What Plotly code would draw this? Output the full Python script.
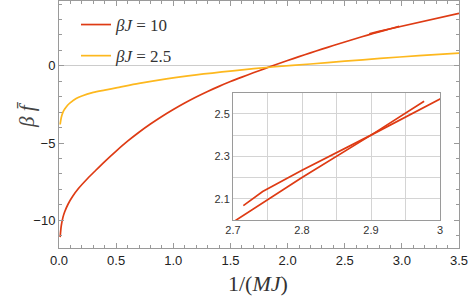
import plotly.graph_objects as go

# ---- data ----
# beta J = 10, main branch (ends inside the inset window)
red_b_x = [0.01, 0.02, 0.035, 0.05, 0.08, 0.12, 0.17, 0.25, 0.32, 0.4, 0.5, 0.6, 0.7, 0.8,
           0.9, 1.0, 1.1, 1.2, 1.3, 1.4, 1.5, 1.6, 1.7, 1.8, 1.9, 2.0, 2.1, 2.2, 2.3, 2.4,
           2.5, 2.6, 2.7, 2.8, 2.9, 2.977]
red_b_y = [-11.1, -10.35, -9.8, -9.45, -8.95, -8.45, -7.95, -7.3, -6.78, -6.2, -5.52, -4.88,
           -4.3, -3.77, -3.28, -2.83, -2.41, -2.02, -1.66, -1.33, -1.02, -0.73, -0.45, -0.18,
           0.09, 0.345, 0.595, 0.84, 1.08, 1.315, 1.545, 1.77, 1.99, 2.2, 2.4, 2.56]
# beta J = 10, second branch (starts inside the inset window)
red_a_x = [2.715, 2.743, 2.8, 2.9, 3.0, 3.1, 3.2, 3.3, 3.4, 3.5]
red_a_y = [2.068, 2.134, 2.235, 2.40, 2.57, 2.74, 2.91, 3.08, 3.24, 3.40]
# beta J = 2.5
yel_x = [0.01, 0.02, 0.035, 0.05, 0.075, 0.1, 0.15, 0.2, 0.3, 0.4, 0.5, 0.7, 0.94, 1.2,
         1.52, 1.89, 2.2, 2.5, 2.81, 3.15, 3.5]
yel_y = [-3.8, -3.35, -3.0, -2.8, -2.55, -2.38, -2.12, -1.95, -1.72, -1.57, -1.43, -1.14,
         -0.84, -0.58, -0.32, -0.06, 0.12, 0.3, 0.48, 0.66, 0.82]

series_names = ["<i>βJ</i> = 10", "<i>βJ</i> = 2.5"]
inset_xticks = [2.7, 2.75, 2.8, 2.85, 2.9, 2.95, 3.0]
inset_xtext = ["2.7", "", "2.8", "", "2.9", "", "3"]
inset_yticks = [2.0, 2.1, 2.2, 2.3, 2.4, 2.5, 2.6]
inset_ytext = ["", "2.1", "", "2.3", "", "2.5", ""]

RED = "#DE3B14"
YEL = "#FDB81E"
FRAME = "#9a9a9a"
SERIF = "Liberation Serif"
SANS = "Liberation Sans"

fig = go.Figure()

# main plot
fig.add_trace(go.Scatter(x=red_b_x, y=red_b_y, mode="lines", line=dict(color=RED, width=1.7, shape="spline", smoothing=0.8),
                         name=series_names[0], legendgroup="a"))
fig.add_trace(go.Scatter(x=red_a_x, y=red_a_y, mode="lines", line=dict(color=RED, width=1.7),
                         showlegend=False, legendgroup="a"))
fig.add_trace(go.Scatter(x=yel_x, y=yel_y, mode="lines", line=dict(color=YEL, width=1.7, shape="spline", smoothing=0.8),
                         name=series_names[1], legendgroup="b"))

# inset
fig.add_trace(go.Scatter(x=red_b_x, y=red_b_y, mode="lines", line=dict(color=RED, width=1.7),
                         xaxis="x2", yaxis="y2", showlegend=False))
fig.add_trace(go.Scatter(x=red_a_x, y=red_a_y, mode="lines", line=dict(color=RED, width=1.7),
                         xaxis="x2", yaxis="y2", showlegend=False))

L, R, T, B = 59, 10, 1, 52
W, H = 469, 300
pw, ph = W - L - R, H - T - B

def px_x(p):
    return (p - L) / pw

def px_y(p):
    return (H - B - p) / ph

fig.update_layout(
    width=W, height=H,
    margin=dict(l=L, r=R, t=T, b=B),
    paper_bgcolor="white", plot_bgcolor="white",
    font=dict(family=SANS, size=13, color="#222"),
    xaxis=dict(range=[0, 3.5], dtick=0.5, tickformat=".1f", ticks="inside", ticklen=5, tickcolor=FRAME,
               showline=True, linecolor=FRAME, linewidth=1, mirror="ticks", showgrid=False, zeroline=False,
               minor=dict(dtick=0.1, ticks="inside", ticklen=3, tickcolor=FRAME),
               tickfont=dict(family=SANS, size=13, color="#222")),
    yaxis=dict(range=[-11.8, 4.2], dtick=5, ticks="inside", ticklen=5, tickcolor=FRAME,
               showline=True, linecolor=FRAME, linewidth=1, mirror="ticks", showgrid=False,
               zeroline=True, zerolinecolor="#cccccc", zerolinewidth=1.2,
               minor=dict(dtick=1, ticks="inside", ticklen=3, tickcolor=FRAME),
               tickfont=dict(family=SANS, size=13, color="#222")),
    xaxis2=dict(domain=[px_x(233), px_x(440)], anchor="y2", range=[2.7, 3.0],
                tickvals=inset_xticks, ticktext=inset_xtext, showgrid=True, gridcolor="#d4d4d4", gridwidth=1,
                showline=True, linecolor=FRAME, mirror=True, zeroline=False, ticks="",
                tickfont=dict(family=SANS, size=11, color="#333")),
    yaxis2=dict(domain=[px_y(220), px_y(92.7)], anchor="x2", range=[2.0, 2.6],
                tickvals=inset_yticks, ticktext=inset_ytext, showgrid=True, gridcolor="#d4d4d4", gridwidth=1,
                showline=True, linecolor=FRAME, mirror=True, zeroline=False, ticks="",
                tickfont=dict(family=SANS, size=11, color="#333")),
    legend=dict(x=px_x(76), y=px_y(7), xanchor="left", yanchor="top", bgcolor="rgba(0,0,0,0)",
                font=dict(family=SERIF, size=17, color="#333"), itemwidth=30, tracegroupgap=6),
    showlegend=True,
)

fig.add_annotation(text="<i>β f̄</i>", xref="paper", yref="paper", x=px_x(27), y=px_y(115),
                   xanchor="center", yanchor="middle",
                   showarrow=False, textangle=-90, font=dict(family=SERIF, size=21, color="#444"))
fig.add_annotation(text="1/(<i>MJ</i>)", xref="paper", yref="paper", x=px_x(258), y=px_y(283),
                   xanchor="center", yanchor="middle",
                   showarrow=False, font=dict(family=SERIF, size=22, color="#333"))

fig.write_html("out.html", config={"displayModeBar": False},
               post_script="document.body.style.margin='0';document.body.style.padding='0';")
